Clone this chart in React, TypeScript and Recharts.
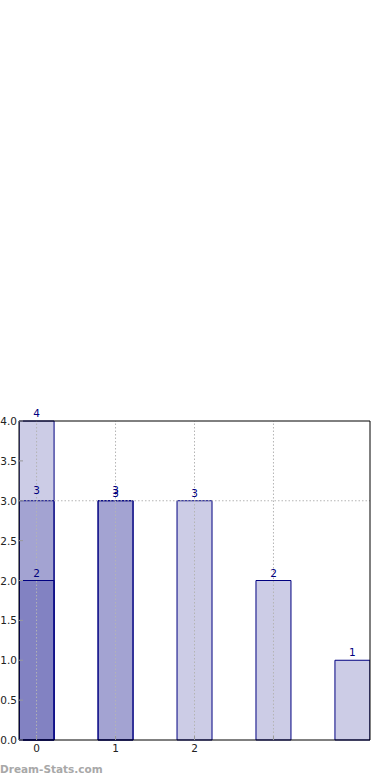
import React from 'react';
import { BarChart, Bar, XAxis, YAxis, ReferenceLine, LabelList } from 'recharts';

const positions = [0, 1, 2, 3, 4];
const seriesA = [4, 3, 3, 2, 1];
const seriesB = [3, 3, null, null, null];
const seriesC = [2, null, null, null, null];
const yTicks = [0, 0.5, 1, 1.5, 2, 2.5, 3, 3.5, 4];
const xTicks = [0, 1, 2, 3];
const xTickLabels = ['0', '1', '2', ''];

const data = positions.map((x, i) => ({ x, a: seriesA[i], b: seriesB[i], c: seriesC[i] }));

const NAVY = '#000080';
const FONT = 'DejaVu Sans, sans-serif';
const X_DOMAIN: [number, number] = [-0.2225, 4.2225];

const LeftTick = (props: any) => {
  const { x, y, payload } = props;
  return (
    <g>
      <line x1={x + 2} x2={x + 6} y1={y} y2={y} stroke="#999" />
      <text x={x} y={y} dy={4} textAnchor="end" fontSize={10.5} fontFamily={FONT} fill="#222">
        {Number(payload.value).toFixed(1)}
      </text>
    </g>
  );
};

const RightTick = (props: any) => {
  const { x, y } = props;
  return <line x1={x - 5} x2={x - 1} y1={y} y2={y} stroke="#999" />;
};

const BottomTick = (props: any) => {
  const { x, y, index } = props;
  return (
    <g>
      <line x1={x} x2={x} y1={y - 4} y2={y} stroke="#999" />
      <text x={x} y={y} dy={12} textAnchor="middle" fontSize={10.5} fontFamily={FONT} fill="#222">
        {xTickLabels[index]}
      </text>
    </g>
  );
};

const labelStyle = { fill: NAVY, fontSize: 10.5, fontFamily: FONT };

export default function App() {
  return (
    <div style={{ position: 'relative', width: 390, height: 780 }}>
      <style>{'body{margin:0}'}</style>
      <BarChart width={390} height={780} data={data} margin={{ top: 421, right: 19, bottom: 0, left: 0 }}>
        <XAxis
          xAxisId={0}
          type="number"
          dataKey="x"
          domain={X_DOMAIN}
          ticks={xTicks}
          height={40}
          axisLine={{ stroke: '#000' }}
          tickLine={false}
          tickSize={0}
          tickMargin={0}
          tick={<BottomTick />}
          allowDataOverflow
        />
        <XAxis xAxisId="b" type="number" dataKey="x" domain={X_DOMAIN} hide allowDataOverflow />
        <XAxis xAxisId="c" type="number" dataKey="x" domain={X_DOMAIN} hide allowDataOverflow />
        <YAxis
          domain={[0, 4]}
          ticks={yTicks}
          width={19}
          axisLine={{ stroke: '#000' }}
          tickLine={false}
          tickSize={0}
          tickMargin={2}
          tick={<LeftTick />}
        />
        <YAxis
          yAxisId="r"
          orientation="right"
          domain={[0, 4]}
          ticks={yTicks}
          width={1}
          axisLine={false}
          tickLine={false}
          tickSize={0}
          tickMargin={0}
          tick={<RightTick />}
        />
        <Bar dataKey="a" xAxisId={0} barSize={35} fill={NAVY} fillOpacity={0.2} stroke={NAVY} strokeWidth={1} isAnimationActive={false}>
          <LabelList dataKey="a" position="top" offset={4} style={labelStyle} />
        </Bar>
        <Bar dataKey="b" xAxisId="b" barSize={35} fill={NAVY} fillOpacity={0.2} stroke={NAVY} strokeWidth={1} isAnimationActive={false}>
          <LabelList dataKey="b" position="top" offset={7} style={labelStyle} />
        </Bar>
        <Bar dataKey="c" xAxisId="c" barSize={35} fill={NAVY} fillOpacity={0.2} stroke={NAVY} strokeWidth={1} isAnimationActive={false}>
          <LabelList dataKey="c" position="top" offset={4} style={labelStyle} />
        </Bar>
        {xTicks.map((t) => (
          <ReferenceLine key={t} x={t} stroke="#b4b4b4" strokeDasharray="1.5 2" />
        ))}
        <ReferenceLine y={3} stroke="#b4b4b4" strokeDasharray="1.5 2" />
        <ReferenceLine y={4} stroke="#000" />
        <ReferenceLine x={X_DOMAIN[1]} stroke="#000" />
      </BarChart>
      <div
        style={{
          position: 'absolute',
          left: 0,
          top: 763,
          fontFamily: FONT,
          fontWeight: 'bold',
          fontSize: 10.5,
          color: '#a8a8a8',
        }}
      >
        Dream-Stats.com
      </div>
    </div>
  );
}
